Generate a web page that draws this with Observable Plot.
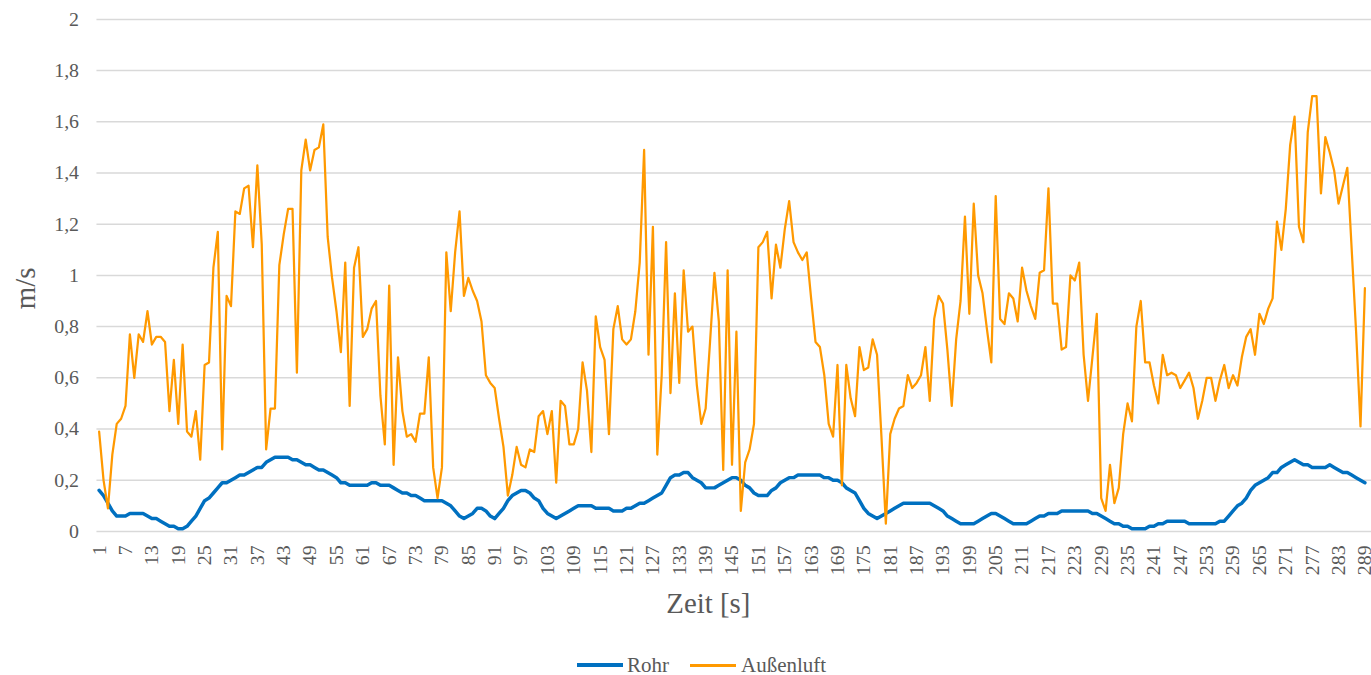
<!DOCTYPE html>
<html>
<head>
<meta charset="utf-8">
<script src="https://cdn.jsdelivr.net/npm/d3@7"></script>
<script src="https://cdn.jsdelivr.net/npm/@observablehq/plot@0.6"></script>
<style>
  html, body { margin: 0; padding: 0; background: #fff; overflow: hidden; width: 1371px; height: 675px; }
  #wrap { position: relative; width: 1371px; height: 675px; overflow: hidden; }
  #legend { position: absolute; top: 654px; left: 577px; height: 22px; display: flex; align-items: center;
            font-family: "Liberation Serif", "Times New Roman", serif; font-size: 21px; color: #595959; white-space: nowrap; }
  .sw { display: inline-block; width: 46px; }
</style>
</head>
<body>
<div id="wrap">
  <div id="chart"></div>
  <div id="legend">
    <span class="sw" style="height:4px;background:#0070C0"></span><span style="margin-left:4px">Rohr</span>
    <span class="sw" style="height:3px;background:#FF9900;margin-left:21px"></span><span style="margin-left:5px">Außenluft</span>
  </div>
</div>
<script>
// Zeit [s] categories 1..289
const seriesNames = ["Rohr", "Außenluft"];
const rohr = [
  0.16,0.14,0.11,0.08,0.06,0.06,0.06,0.07,0.07,0.07,
  0.07,0.06,0.05,0.05,0.04,0.03,0.02,0.02,0.01,0.01,
  0.02,0.04,0.06,0.09,0.12,0.13,0.15,0.17,0.19,0.19,
  0.20,0.21,0.22,0.22,0.23,0.24,0.25,0.25,0.27,0.28,
  0.29,0.29,0.29,0.29,0.28,0.28,0.27,0.26,0.26,0.25,
  0.24,0.24,0.23,0.22,0.21,0.19,0.19,0.18,0.18,0.18,
  0.18,0.18,0.19,0.19,0.18,0.18,0.18,0.17,0.16,0.15,
  0.15,0.14,0.14,0.13,0.12,0.12,0.12,0.12,0.12,0.11,
  0.10,0.08,0.06,0.05,0.06,0.07,0.09,0.09,0.08,0.06,
  0.05,0.07,0.09,0.12,0.14,0.15,0.16,0.16,0.15,0.13,
  0.12,0.09,0.07,0.06,0.05,0.06,0.07,0.08,0.09,0.10,
  0.10,0.10,0.10,0.09,0.09,0.09,0.09,0.08,0.08,0.08,
  0.09,0.09,0.10,0.11,0.11,0.12,0.13,0.14,0.15,0.18,
  0.21,0.22,0.22,0.23,0.23,0.21,0.20,0.19,0.17,0.17,
  0.17,0.18,0.19,0.20,0.21,0.21,0.20,0.18,0.17,0.15,
  0.14,0.14,0.14,0.16,0.17,0.19,0.20,0.21,0.21,0.22,
  0.22,0.22,0.22,0.22,0.22,0.21,0.21,0.20,0.20,0.19,
  0.17,0.16,0.15,0.12,0.09,0.07,0.06,0.05,0.06,0.07,
  0.08,0.09,0.10,0.11,0.11,0.11,0.11,0.11,0.11,0.11,
  0.10,0.09,0.08,0.06,0.05,0.04,0.03,0.03,0.03,0.03,
  0.04,0.05,0.06,0.07,0.07,0.06,0.05,0.04,0.03,0.03,
  0.03,0.03,0.04,0.05,0.06,0.06,0.07,0.07,0.07,0.08,
  0.08,0.08,0.08,0.08,0.08,0.08,0.07,0.07,0.06,0.05,
  0.04,0.03,0.03,0.02,0.02,0.01,0.01,0.01,0.01,0.02,
  0.02,0.03,0.03,0.04,0.04,0.04,0.04,0.04,0.03,0.03,
  0.03,0.03,0.03,0.03,0.03,0.04,0.04,0.06,0.08,0.10,
  0.11,0.13,0.16,0.18,0.19,0.20,0.21,0.23,0.23,0.25,
  0.26,0.27,0.28,0.27,0.26,0.26,0.25,0.25,0.25,0.25,
  0.26,0.25,0.24,0.23,0.23,0.22,0.21,0.20,0.19
];
const aussenluft = [
  0.39,0.20,0.09,0.30,0.42,0.44,0.49,0.77,0.60,0.77,
  0.74,0.86,0.73,0.76,0.76,0.74,0.47,0.67,0.42,0.73,
  0.39,0.37,0.47,0.28,0.65,0.66,1.03,1.17,0.32,0.92,
  0.88,1.25,1.24,1.34,1.35,1.11,1.43,1.12,0.32,0.48,
  0.48,1.04,1.16,1.26,1.26,0.62,1.41,1.53,1.41,1.49,
  1.50,1.59,1.15,0.99,0.86,0.70,1.05,0.49,1.03,1.11,
  0.76,0.79,0.87,0.90,0.53,0.34,0.96,0.26,0.68,0.47,
  0.37,0.38,0.35,0.46,0.46,0.68,0.25,0.13,0.25,1.09,
  0.86,1.09,1.25,0.92,0.99,0.94,0.90,0.82,0.61,0.58,
  0.56,0.44,0.33,0.14,0.22,0.33,0.26,0.25,0.32,0.31,
  0.45,0.47,0.38,0.47,0.19,0.51,0.49,0.34,0.34,0.40,
  0.66,0.55,0.31,0.84,0.72,0.67,0.38,0.79,0.88,0.75,
  0.73,0.75,0.86,1.05,1.49,0.69,1.19,0.30,0.61,1.13,
  0.54,0.93,0.58,1.02,0.78,0.80,0.57,0.42,0.48,0.74,
  1.01,0.82,0.24,1.02,0.26,0.78,0.08,0.27,0.32,0.42,
  1.11,1.13,1.17,0.91,1.12,1.03,1.18,1.29,1.13,1.09,
  1.06,1.09,0.91,0.74,0.72,0.61,0.42,0.37,0.65,0.18,
  0.65,0.52,0.45,0.72,0.63,0.64,0.75,0.69,0.37,0.03,
  0.38,0.44,0.48,0.49,0.61,0.56,0.58,0.61,0.72,0.51,
  0.83,0.92,0.89,0.71,0.49,0.75,0.90,1.23,0.85,1.28,
  1.00,0.93,0.79,0.66,1.31,0.83,0.81,0.93,0.91,0.82,
  1.03,0.94,0.88,0.83,1.01,1.02,1.34,0.89,0.89,0.71,
  0.72,1.00,0.98,1.05,0.69,0.51,0.68,0.85,0.13,0.08,
  0.26,0.11,0.17,0.38,0.50,0.43,0.80,0.90,0.66,0.66,
  0.57,0.50,0.69,0.61,0.62,0.61,0.56,0.59,0.62,0.56,
  0.44,0.51,0.60,0.60,0.51,0.59,0.65,0.56,0.61,0.57,
  0.68,0.76,0.79,0.69,0.85,0.81,0.87,0.91,1.21,1.10,
  1.26,1.51,1.62,1.19,1.13,1.56,1.70,1.70,1.32,1.54,
  1.48,1.41,1.28,1.35,1.42,1.10,0.78,0.41,0.95
];
const yTicks = [0, 0.2, 0.4, 0.6, 0.8, 1, 1.2, 1.4, 1.6, 1.8, 2];
const xTicks = [1,7,13,19,25,31,37,43,49,55,61,67,73,79,85,91,97,103,109,115,121,127,133,139,145,151,157,163,169,175,181,187,193,199,205,211,217,223,229,235,241,247,253,259,265,271,277,283,289];
const xTitle = "Zeit [s]";
const yTitle = "m/s";

const rohrData = rohr.map((v, i) => ({t: i + 1, v}));
const luftData = aussenluft.map((v, i) => ({t: i + 1, v}));

const font = "'Liberation Serif', 'Times New Roman', serif";
const chart = Plot.plot({
  width: 1379,
  height: 640,
  marginLeft: 97,
  marginRight: 0,
  marginTop: 19,
  marginBottom: 106,
  style: {fontFamily: font, background: "#fff", overflow: "visible"},
  x: {type: "linear", domain: [0.5, 290.5]},
  y: {domain: [0, 2]},
  marks: [
    Plot.gridY(yTicks, {stroke: "#d9d9d9", strokeOpacity: 1, strokeWidth: 1.5}),
    Plot.axisY(yTicks, {tickSize: 0, tickPadding: 18, fontSize: 20, color: "#595959", label: null,
      tickFormat: d => String(d).replace(".", ",")}),
    Plot.axisX(xTicks, {tickSize: 0, tickPadding: 14, tickRotate: -90, fontSize: 20, color: "#595959", label: null,
      tickFormat: d => String(d)}),
    Plot.line(rohrData, {x: "t", y: "v", stroke: "#0070C0", strokeWidth: 3.5, strokeLinejoin: "round", strokeLinecap: "round"}),
    Plot.line(luftData, {x: "t", y: "v", stroke: "#FF9900", strokeWidth: 2.25, strokeLinejoin: "round", strokeLinecap: "round"}),
    Plot.text([xTitle], {frameAnchor: "bottom", textAnchor: "middle", lineAnchor: "middle", dx: -26, dy: 73, fontSize: 29, fill: "#595959"}),
    Plot.text([yTitle], {frameAnchor: "left", textAnchor: "middle", lineAnchor: "middle", dx: -72, dy: 13, rotate: -90, fontSize: 29, fill: "#595959"})
  ]
});
document.getElementById("chart").appendChild(chart);
</script>
</body>
</html>
